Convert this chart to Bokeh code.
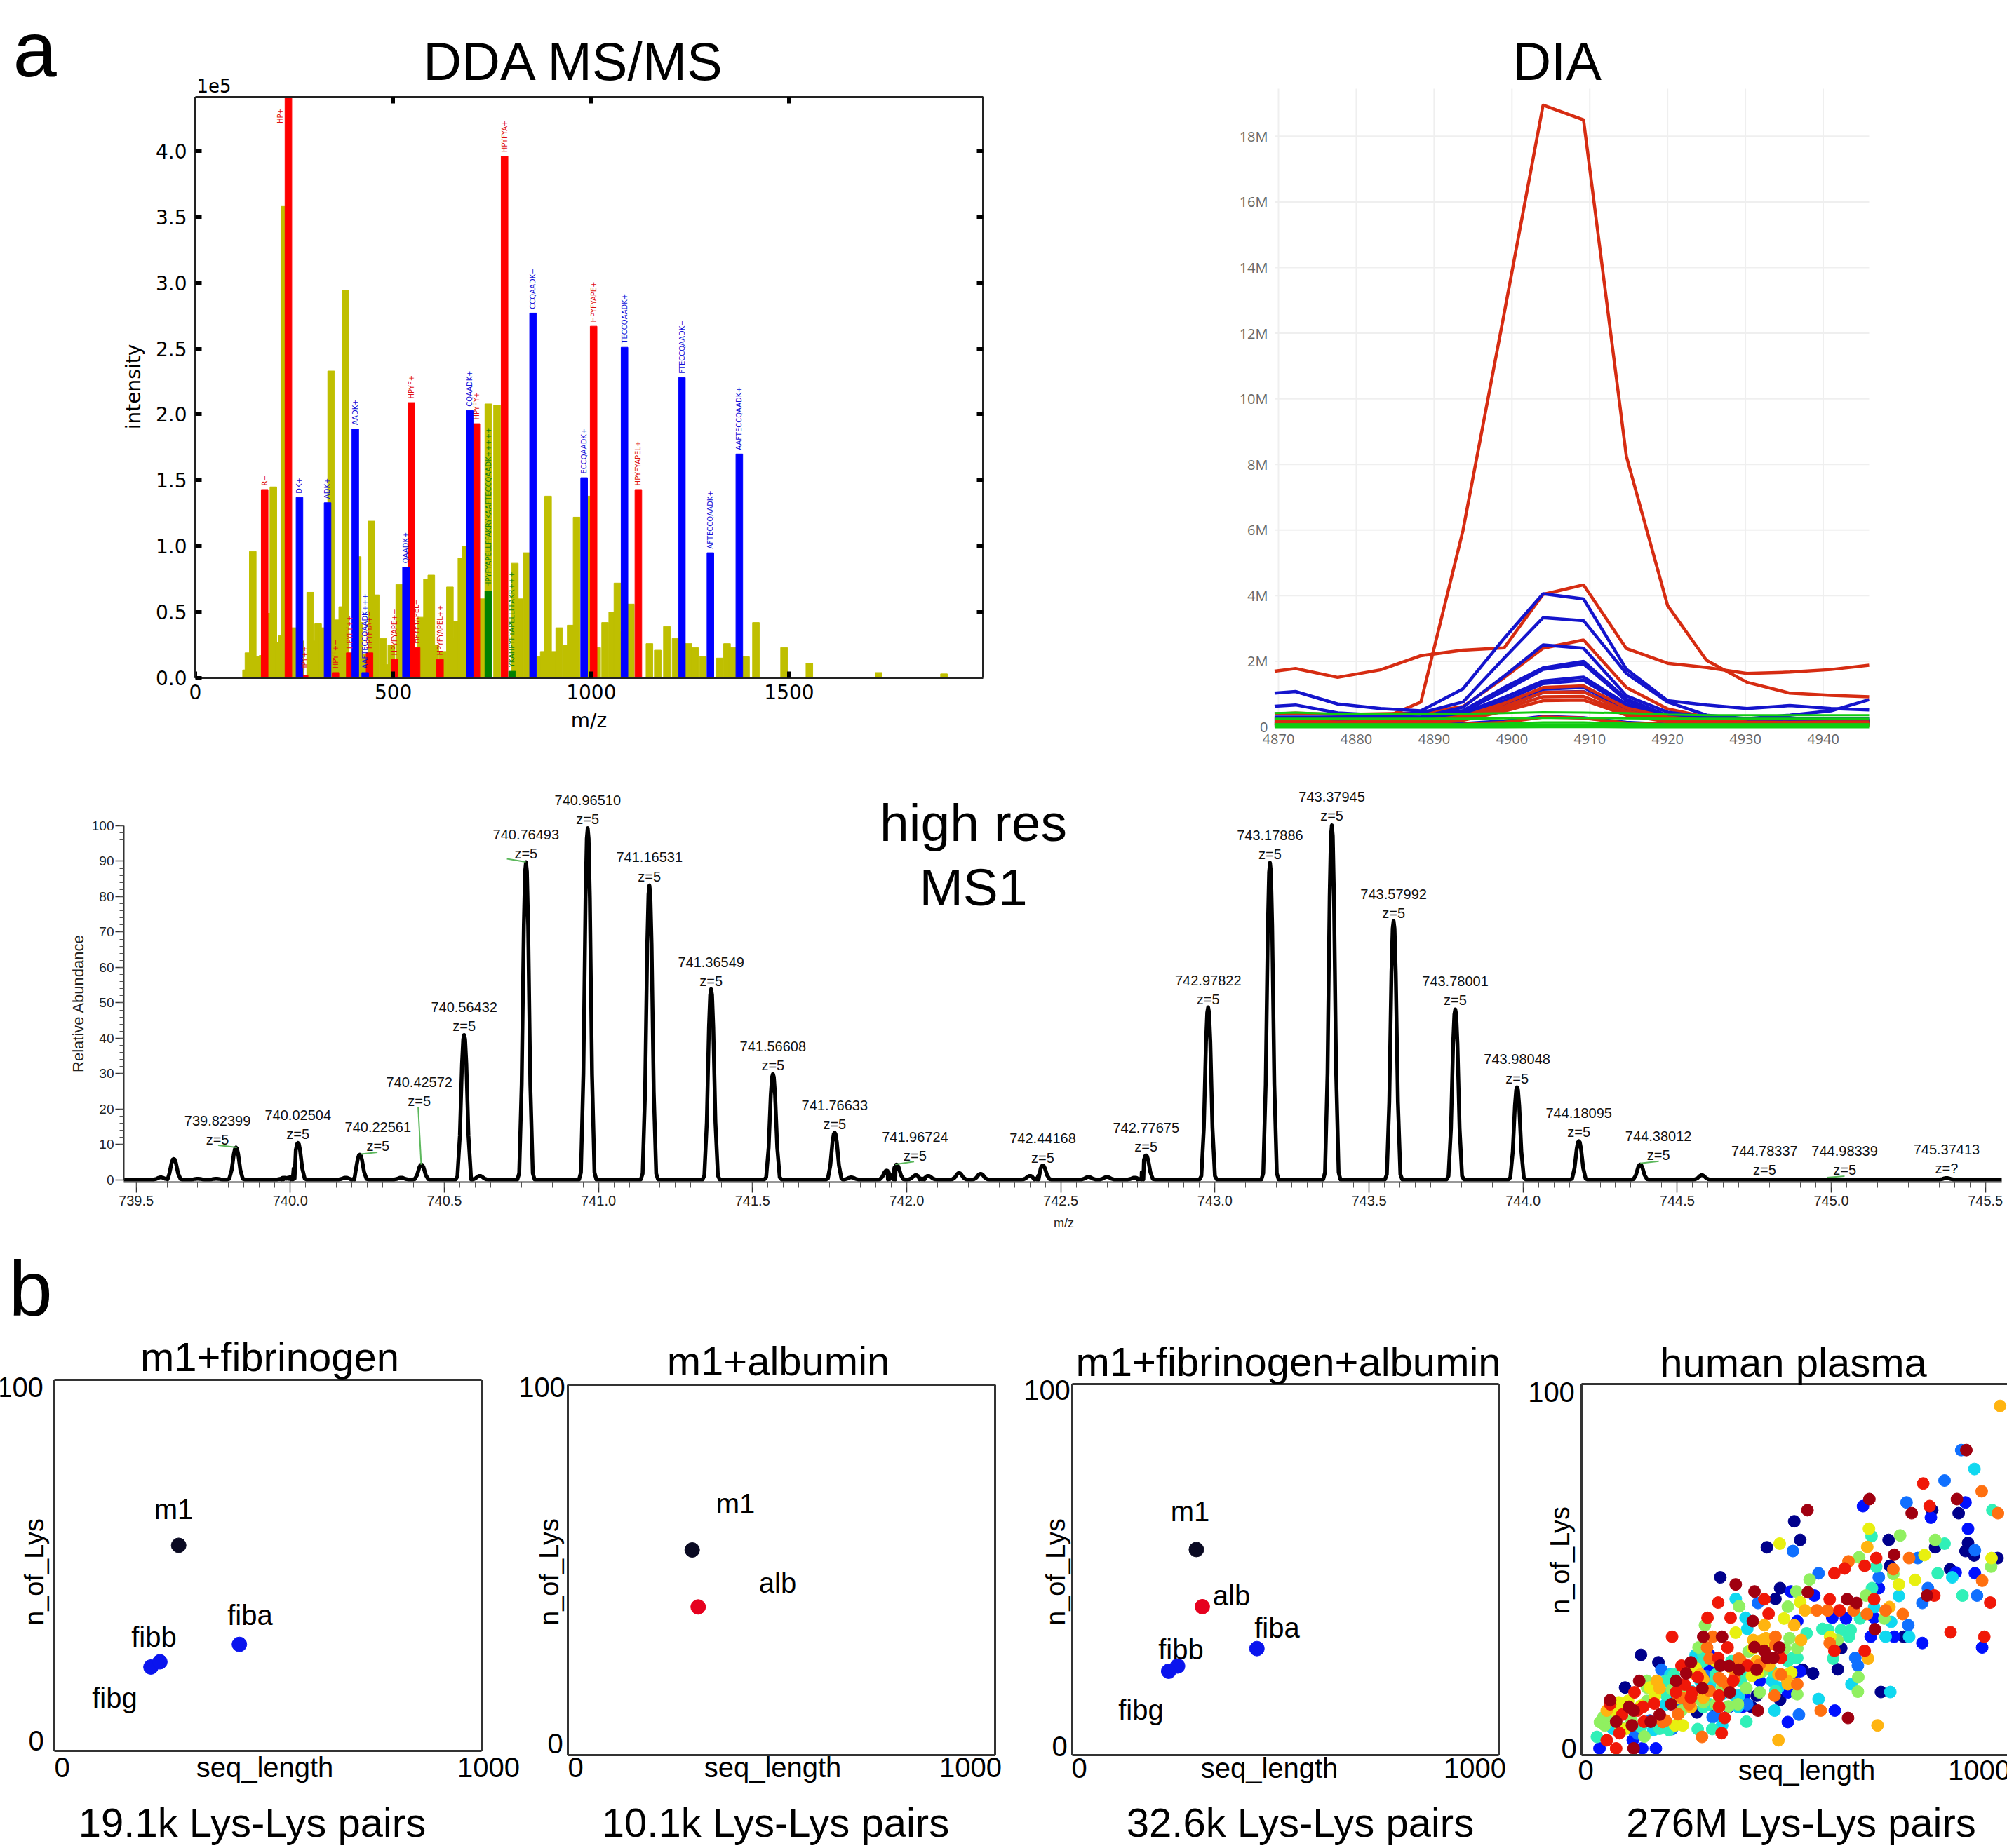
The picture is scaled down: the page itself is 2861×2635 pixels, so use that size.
import math
from bokeh.plotting import figure
from bokeh.layouts import column, row
from bokeh.models import Range1d, Label, LinearAxis, FixedTicker
from bokeh.core.properties import value
from bokeh.embed import file_html
from bokeh.resources import INLINE

# ---------- panel a, DDA MS/MS (intensity in units of 1e5) ----------
olive_mz = [128,134,145,155,170,188,197,212,218,225,248,265,290,300,310,320,343,359,371,379,410,415,430,445,456,
            474,484,495,515,524,545,570,585,596,606,625,643,651,660,672,682,700,726,740,762,807,819,837,872,880,891,
            902,919,937,948,963,993,1015,1035,1053,1066,1080,1100,1147,1168,1191,1213,1246,1262,1282,1325,1343,1357,
            1391,1416,1487,1551,1726,1891]
olive_int = [0.06,0.19,0.96,0.16,0.17,0.49,1.45,0.27,0.32,3.58,0.38,0.28,0.65,0.28,0.41,0.38,2.33,0.44,0.54,2.94,
             0.92,0.42,0.18,1.19,0.63,0.30,0.10,0.25,0.71,0.35,0.20,0.46,0.75,0.78,0.25,0.20,0.69,0.30,0.43,0.91,1.00,
             0.20,0.60,2.08,2.07,0.87,0.60,0.95,0.16,0.20,1.38,0.20,0.38,0.25,0.40,1.22,1.38,0.23,0.42,0.50,0.72,0.35,
             0.56,0.26,0.21,0.39,0.30,0.26,0.23,0.16,0.15,0.26,0.23,0.16,0.42,0.23,0.11,0.04,0.03]
red_mz = [175,235,276,354,390,440,503,546,559,618,710,781,1006,1119]
red_int = [1.43,4.41,0.02,0.04,0.19,0.19,0.14,2.09,0.23,0.14,1.93,3.96,2.67,1.43]
red_lab = ["R+","HP+","HPY++","HPYF++","HPYFY++","HPYFYA++","HPYFYAPE++","HPYF+","HPYFYAPEL+","HPYFYAPEL++",
           "HPYFY+","HPYFYA+","HPYFYAPE+","HPYFYAPEL+"]
blue_mz = [263,334,404,429,532,693,853,982,1084,1229,1301,1374]
blue_int = [1.37,1.33,1.89,0.04,0.84,2.03,2.77,1.52,2.51,2.28,0.95,1.70]
blue_lab = ["DK+","ADK+","AADK+","AAFTECCQAADK+++","QAADK+","CQAADK+","CCQAADK+","ECCQAADK+","TECCQAADK+",
            "FTECCQAADK+","AFTECCQAADK+","AAFTECCQAADK+"]
green_mz = [740,800]
green_int = [0.66,0.05]
green_lab = ["HPYFYAPELLFFAKRYKAAFTECCQAADK+++++","YKAHPYFYAPELLFFAKR+++"]

# ---------- panel a, DIA chromatograms (millions) ----------
dia_t = [4869.5,4872.2,4877.6,4883.1,4888.3,4893.7,4899,4904,4909.2,4914.7,4920,4925,4930.2,4935.7,4941,4945.9]
dia_red_large = [
 [.10,.10,.12,.23,.76,5.98,12.6,18.95,18.5,8.25,3.7,2.03,1.36,1.03,.96,.92],
 [1.70,1.78,1.51,1.74,2.17,2.34,2.41,4.04,4.33,2.39,1.94,1.81,1.63,1.67,1.75,1.88],
 [.40,.42,.38,.40,.42,.62,1.5,2.4,2.65,1.2,.55,.30,.20,.18,.18,.18],
]
dia_red_small = [
 [.17,.17,.15,.16,.18,.32,.72,1.2,1.25,.58,.30,.20,.15,.14,.15,.15],
 [.13,.13,.12,.13,.15,.30,.62,1.05,1.07,.48,.22,.15,.12,.12,.13,.12],
 [.10,.10,.10,.11,.12,.25,.55,.92,.93,.42,.20,.13,.10,.10,.10,.10],
 [.08,.08,.08,.09,.10,.20,.48,.80,.82,.36,.16,.10,.09,.08,.08,.08],
 [.05,.05,.05,.05,.06,.08,.14,.30,.27,.12,.08,.06,.05,.05,.05,.05],
]
dia_blue = [
 [1.03,1.08,.70,.56,.49,1.16,2.70,4.06,3.90,1.76,.80,.67,.56,.65,.56,.52],
 [.63,.67,.43,.36,.43,.76,2.10,3.33,3.24,1.63,.76,.36,.25,.36,.49,.83],
 [.30,.30,.30,.32,.30,.60,1.55,2.50,2.40,.95,.45,.30,.25,.25,.25,.25],
 [.28,.28,.27,.28,.30,.50,1.20,1.80,2.00,.85,.35,.25,.20,.20,.20,.20],
 [.25,.26,.25,.26,.28,.46,1.10,1.75,1.92,.80,.33,.22,.18,.18,.18,.18],
 [.22,.22,.22,.23,.25,.42,.90,1.40,1.52,.70,.30,.20,.16,.16,.16,.16],
 [.20,.20,.20,.20,.22,.38,.80,1.32,1.42,.64,.28,.18,.15,.15,.15,.15],
 [.16,.16,.16,.17,.18,.34,.70,1.15,1.20,.55,.24,.16,.13,.13,.13,.13],
 [.12,.12,.12,.13,.14,.28,.62,1.05,1.08,.48,.20,.13,.10,.10,.10,.10],
 [.06,.06,.06,.06,.07,.10,.18,.32,.28,.14,.08,.06,.05,.05,.05,.05],
]
dia_green = [
 [.42,.44,.40,.40,.40,.40,.42,.45,.44,.42,.38,.36,.36,.36,.36,.36],
 [.25,.25,.25,.25,.25,.25,.26,.27,.27,.26,.25,.25,.25,.25,.25,.25],
 [.08,.08,.08,.08,.08,.08,.10,.14,.14,.10,.08,.08,.08,.08,.08,.08],
 [.03,.03,.03,.03,.03,.03,.03,.04,.04,.03,.03,.03,.03,.03,.03,.03],
]
dia_green_widths = [3,3,3,7]
dia_xticks = [4870,4880,4890,4900,4910,4920,4930,4940]
dia_yticks = [0,2,4,6,8,10,12,14,16,18]

# ---------- panel a, high-res MS1 ----------
peak_mz = [739.58,739.622,739.70,739.76,739.82399,739.98,740.0,740.02504,740.18,740.22561,740.36,740.42572,740.56432,
           740.615,740.76493,740.96510,741.16531,741.36549,741.56608,741.76633,741.82,741.935,741.96724,742.03,742.07,
           742.17,742.24,742.40,742.44168,742.59,742.65,742.74,742.77675,742.97822,743.17886,743.37945,743.57992,
           743.78001,743.98048,744.18095,744.38012,744.58,745.37413]
peak_int = [0.6,5.8,0.2,0.2,9.0,0.5,0.6,10.3,0.5,7.0,0.5,4.2,40.8,1.0,89.6,99.2,83.0,53.7,29.8,13.2,0.6,2.5,4.2,1.2,1.0,
            1.8,1.6,1.0,3.9,0.7,0.7,0.5,6.8,48.6,89.4,100.0,73.0,48.0,26.0,10.8,4.2,1.2,0.4]
ms_names = ["739.82399","740.02504","740.22561","740.42572","740.56432","740.76493","740.96510","741.16531","741.36549",
            "741.56608","741.76633","741.96724","742.44168","742.77675","742.97822","743.17886","743.37945","743.57992",
            "743.78001","743.98048","744.18095","744.38012","744.78337","744.98339","745.37413"]
ms_z = ["z=5"]*24 + ["z=?"]
ms_label_shift = [-0.06,0,0.059,-0.007,0,0,0,0,0,0,0,0.06,0,0,0,0,0,0,0,0,0,0.059,0,0.06,0]
ms_label_y = [11.4,12.9,9.5,22.2,43.5,92.1,101.8,85.7,56.1,32.3,15.7,6.8,6.3,9.4,51,92,102.8,75.3,50.7,28.7,13.6,7,2.9,2.9,3.2]
leader_x0 = [739.766,740.703,740.23,740.415,741.963,744.38,744.986]
leader_x1 = [739.827,740.764,740.283,740.425,742.024,744.44,745.043]
leader_y0 = [9.8,90.7,7.3,20.7,4.4,4.7,0.7]
leader_y1 = [9.2,89.8,7.8,4.3,5.2,5.3,1.1]

# ---------- panel b ----------
m1 = (291,55.4); alb = (305,40); fiba = (433,28.7); fibb = (247,24); fibg = (226,22.6)

plasma_navy = [(139,27),(102,18.2),(325,47.9),(434,56),(498,63),(512,58),(719,58),(821,66),(883,65.2),(905,57.2),(828,56),
 (899,55),(919,53.8),(974,53.1),(722,51),(863,50.1),(465,45),(454,42.1),(608,28.8),(600,23.1),(701,17),(180,25),(518,23),
 (542,22),(465,14.9),(754,31.9),(307,13.5),(410,16),(399,12.9),(270,11.5),(314,20.8)]
plasma_blue = [(659,67.1),(899,68.1),(818,64),(905,61),(876,49.2),(921,49),(490,44.1),(545,43),(696,45),(587,37),(619,36.8),
 (685,37),(505,36.1),(677,31.9),(732,31.9),(798,30.2),(938,29),(593,12),(300,23),(498,22.2),(483,16.9),(483,8.9),(42,1.8),
 (142,1.8),(174,1.8),(120,4),(377,13),(380,16),(278,25.3),(300,27),(344,12.9),(512,22.6),(417,20)]
plasma_azure = [(889,82.2),(850,74),(761,68.1),(495,55),(921,55.2),(787,53.1),(696,47.9),(811,45),(926,43),(798,41),(413,41),
 (765,35),(641,26.2),(647,24.1),(187,23),(509,10.9),(292,21.3),(208,21.7),(314,10.6),(120,6.7),(212,7),(234,14.6),(555,49),
 (212,16.4),(160,9.3),(131,5.8),(307,10.2),(270,24.4),(388,13.7)]
plasma_cyan = [(920,77.1),(361,42.1),(685,39.9),(384,37),(388,34),(725,35.9),(712,31.9),(767,31.9),(632,19.1),(723,17),
 (555,15.1),(446,20),(452,12),(267,27),(743,42.9),(868,47.9),(359,16),(366,13),(329,8),(73,7.1),(197,13.7),(300,18.6),
 (208,21.7),(278,20),(256,17.3),(369,16),(461,18.2),(168,6.7),(329,16.4)]
plasma_teal = [(962,66),(679,59),(850,57),(690,50.8),(834,49),(680,45),(892,43),(652,36.8),(527,32.8),(564,34),(578,33.7),
 (608,33.7),(630,33.7),(626,31.9),(589,26),(505,26.2),(494,26.2),(285,25.3),(314,20.8),(36,4.9),(272,7),(306,7),(386,9),
 (205,6.7),(183,7.1),(139,7.5),(285,12.9),(197,16.4),(373,21.7),(285,27),(263,24.4),(314,21.7),(216,21.7),(197,20),(351,25.3),
 (373,20),(446,22.6),(454,17.3),(483,25.3),(300,13.7)]
plasma_lime = [(746,59.2),(828,58),(650,53.3),(730,48.8),(534,47.3),(503,44.1),(666,43),(369,40.1),(483,40),(709,36.8),(289,35),
 (487,31.5),(599,31),(391,27.9),(274,29),(648,21),(647,17.1),(505,16.4),(417,16.9),(386,18),(153,18.2),(54,8),(43,8.9),(91,7.5),
 (147,5),(285,14.2),(344,13.1),(329,18.2),(212,17.7),(234,12),(153,14.6),(117,9.3),(959,50.8),(51,10.2),(65,10.6),(153,20),
 (168,17.3),(234,17.3),(278,15),(314,13.7),(366,13.7),(424,22.6),(476,28.8),(505,28.8)]
plasma_yellow = [(464,57),(673,61),(803,53.9),(960,53.1),(743,46),(781,47.2),(512,41.2),(474,36.8),(361,33),(582,31.9),(491,22.2),
 (399,21.3),(413,22.2),(87,14.2),(76,12),(102,7),(219,8),(237,8),(172,16),(102,12.9),(259,22.2),(98,12.9),(109,14.6),(139,13.3),
 (160,18.2),(248,22.6),(267,23.5),(314,25.3),(402,28.8),(432,29.7),(483,21.7),(226,15.5)]
plasma_amber = [(980,94.1),(669,56.1),(523,39),(721,39.9),(498,35),(428,35),(424,31),(514,31),(671,26),(439,24.1),(482,20),(693,8),
 (461,4),(59,12),(176,20),(183,18),(278,21.7),(256,12.9),(248,15.5),(285,15.5),(351,23.5),(410,25.3),(432,31.5),(402,31),(461,21.7),
 (483,19.1),(285,20.4)]
plasma_orange = [(937,71.1),(767,53.1),(625,52.2),(730,50.1),(938,47),(752,38),(712,39),(551,39),(576,39),(637,39),(668,38),(307,31.9),
 (454,31.9),(581,30.2),(294,29),(368,26),(300,26),(467,21.7),(505,19.1),(452,16),(560,12),(975,65.2),(282,4.9),(190,8.9),(252,13.7),
 (322,20.8),(344,18.6),(197,9.3),(234,15.5),(300,17.3),(329,20),(358,20.8),(373,25.3),(417,24.4),(454,29.7),(226,11)]
plasma_red = [(800,73.2),(815,67.1),(690,53.1),(616,50.3),(592,49),(663,51),(428,42),(320,41.1),(581,42),(685,42),(604,39),(295,37),
 (349,37),(438,38.1),(826,43),(957,41.1),(864,33.1),(943,31.9),(592,28.1),(663,28.1),(342,29),(234,24.1),(272,21),(320,26.2),(467,26.2),
 (389,24.1),(124,16.9),(221,16.9),(67,13.7),(144,13),(170,13.9),(95,10.9),(89,5.9),(146,9),(131,12),(59,4),(81,1.8),(335,10),(322,13),
 (322,16),(355,20),(241,19),(259,16.9),(256,15.5),(328,5.9),(212,31.9)]
plasma_darkred = [(901,82.2),(879,69),(674,69),(773,65.2),(529,66),(732,54),(361,46),(405,44.1),(530,43.9),(622,42),(644,41),(809,43),
 (401,36.1),(285,31.9),(329,31.9),(687,33.9),(405,29.1),(428,28.1),(463,29),(624,10),(256,25),(245,22),(325,24.1),(346,24),(368,23),
 (410,23),(434,26.2),(449,26.2),(135,20),(67,14.8),(221,20),(210,13.7),(111,13),(122,12),(183,10.9),(162,9),(81,9),(118,8),(122,1.8),
 (413,12),(347,16.9),(283,18)]
plasma_groups = [("#00008b",plasma_navy),("#0010ff",plasma_blue),("#1070ff",plasma_azure),("#10d8f0",plasma_cyan),("#30f0b8",plasma_teal),
 ("#90f060",plasma_lime),("#e8f010",plasma_yellow),("#ffb410",plasma_amber),("#ff7010",plasma_orange),("#f01808",plasma_red),("#a00010",plasma_darkred)]

ARIAL = "Liberation Sans"
DEJA = "DejaVu Sans"
BASELINE_LIFT = 0.375   # Label places alphabetic text this fraction of its size too low here


class Panel:
    """The plot area fills the whole figure box; the axes sit at fixed data locations on the inner box,
    so that text may lie anywhere around them without being clipped."""
    def __init__(self, box, frame, xr, yr):
        fl, ft, fr, fb = box
        l, t, r, b = frame
        self.box, self.xr, self.yr = box, xr, yr
        kx = (xr[1]-xr[0])/(r-l); ky = (yr[1]-yr[0])/(b-t)
        self.p = figure(width=fr-fl, height=fb-ft,
                        x_range=Range1d(xr[0]+(fl-l)*kx, xr[0]+(fr-l)*kx),
                        y_range=Range1d(yr[0]+(b-fb)*ky, yr[0]+(b-ft)*ky),
                        output_backend="svg", toolbar_location=None,
                        min_border_left=0, min_border_right=0, min_border_top=0, min_border_bottom=0,
                        background_fill_color="white", border_fill_color="white")
        self.p.grid.visible = False
        self.p.outline_line_color = None
        self.x_axis, self.y_axis = self.p.below[0], self.p.left[0]
        self.x_axis.fixed_location = yr[0]; self.x_axis.bounds = xr
        self.y_axis.fixed_location = xr[0]; self.y_axis.bounds = yr

    def mirror(self, right=True, ticks_x=(), ticks_y=()):
        axes = []
        top = LinearAxis(fixed_location=self.yr[1], bounds=self.xr, ticker=FixedTicker(ticks=list(ticks_x)),
                         major_label_text_color=None)
        self.p.add_layout(top, "above"); axes.append(top)
        if right:
            rt = LinearAxis(fixed_location=self.xr[1], bounds=self.yr, ticker=FixedTicker(ticks=list(ticks_y)),
                            major_label_text_color=None)
            self.p.add_layout(rt, "right"); axes.append(rt)
        return axes

    def label(self, px, py, text, size, font=ARIAL, align="center", base="middle", angle=0, color="black"):
        if base == "alphabetic":
            py -= BASELINE_LIFT*size
        self.p.add_layout(Label(x=px-self.box[0], y=py-self.box[1], x_units="canvas", y_units="canvas",
                                text=text, text_font=font,
                                text_font_size=f"{size}px", text_align=align, text_baseline=base,
                                angle=angle, angle_units="deg", text_color=color))


TOP = 0; LEFT = 0; BOT = 2635; RIGHT = 2861
# ---------------- DDA ----------------
A = Panel((LEFT,TOP,1700,1090), (278,138,1401,966), (0,1990), (0,4.41))
pa = A.p
BAR_W = 17
pa.vbar(x=olive_mz, top=olive_int, width=BAR_W, color="#bfbf00")
for mz, it, col in [(red_mz,red_int,"#ff0000"),(blue_mz,blue_int,"#0000ff"),(green_mz,green_int,"#008000")]:
    pa.vbar(x=mz, top=it, width=BAR_W, color=col)
lab_cols = [(red_mz,red_int,red_lab,"#e01010"),(blue_mz,blue_int,blue_lab,"#1010d8"),(green_mz,green_int,green_lab,"#108010")]
for mz, it, lab, col in lab_cols:
    ys = [min(v,4.18)+0.03 for v in it]
    xs = [m-20 if v>=4.41 else m for m,v in zip(mz,it)]
    pa.text(x=xs, y=ys, text=lab, angle=math.pi/2, text_color=col, text_font=value(DEJA),
            text_font_size="10px", text_align="left", text_baseline="middle")
ax_x, ax_y = A.x_axis, A.y_axis
ax_x.ticker = FixedTicker(ticks=[0,500,1000,1500])
ax_y.ticker = FixedTicker(ticks=[0,0.5,1,1.5,2,2.5,3,3.5,4])
ax_y.major_label_overrides = {0:"0.0",0.5:"0.5",1:"1.0",1.5:"1.5",2:"2.0",2.5:"2.5",3:"3.0",3.5:"3.5",4:"4.0"}
for ax in [ax_x, ax_y] + A.mirror(ticks_x=[500,1000,1500], ticks_y=[0.5,1,1.5,2,2.5,3,3.5,4]):
    ax.axis_line_color = "#222222"; ax.axis_line_width = 3
    ax.major_tick_line_color = "black"; ax.major_tick_line_width = 5
    ax.major_tick_in = 9; ax.major_tick_out = 0
    ax.minor_tick_line_color = None
for ax, st in [(ax_x,9),(ax_y,12)]:
    ax.major_label_text_font = DEJA; ax.major_label_text_font_size = "28px"
    ax.major_label_text_color = "black"; ax.major_label_standoff = st
A.label(190, 551, "intensity", 28, font=DEJA, angle=90)
A.label(839, 1027, "m/z", 28, font=DEJA)
A.label(818, 115, "DDA MS/MS", 76, base="alphabetic")
A.label(280, 131, "1e5", 26, font=DEJA, align="left", base="alphabetic")
A.label(18, 112, "a", 112, align="left", base="alphabetic")

# ---------------- DIA ----------------
B = Panel((1700,TOP,RIGHT,1090), (1817,126,2664,1036), (4869.55,4945.9), (0,19.45))
pb = B.p
pb.segment(x0=dia_xticks, y0=[0]*len(dia_xticks), x1=dia_xticks, y1=[19.45]*len(dia_xticks), line_color="#efefef", line_width=2)
pb.segment(x0=[4869.55]*len(dia_yticks), y0=dia_yticks, x1=[4945.9]*len(dia_yticks), y1=dia_yticks, line_color="#efefef", line_width=2)
B.x_axis.ticker = FixedTicker(ticks=dia_xticks)
B.y_axis.ticker = FixedTicker(ticks=dia_yticks)
B.y_axis.major_label_overrides = {v:(f"{v}M" if v else "0") for v in dia_yticks}
for ax in [B.x_axis, B.y_axis]:
    ax.axis_line_color = None; ax.major_tick_line_color = None; ax.minor_tick_line_color = None
    ax.major_label_text_font = "Open Sans"; ax.major_label_text_font_size = "20px"
    ax.major_label_text_color = "#666666"; ax.major_label_standoff = 4
for ys in dia_red_large:
    pb.line(dia_t, ys, line_color="#d62c12", line_width=4.5)
for ys in dia_blue:
    pb.line(dia_t, ys, line_color="#1414cc", line_width=4.5)
for ys in dia_red_small:
    pb.line(dia_t, ys, line_color="#d62c12", line_width=4.5)
for ys, w in zip(dia_green, dia_green_widths):
    pb.line(dia_t, ys, line_color="#10cc10", line_width=w)
B.label(2219, 115, "DIA", 76, base="alphabetic")

# ---------------- MS1 ----------------
C = Panel((LEFT,1090,RIGHT,1775), (176,1177,2853,1685), (739.46,745.553), (-0.6,100))
pc = C.p
PROFILE_DX = [-0.028,-0.022,-0.014,-0.007,-0.003,0,0.003,0.007,0.014,0.022,0.028]
PROFILE_H = [0,0.02,0.3,0.8,0.97,1,0.97,0.8,0.3,0.02,0]
BASE = 0.15
sx, sy = [739.46], [BASE]
for mz, h in zip(peak_mz, peak_int):
    for d, f in zip(PROFILE_DX, PROFILE_H):
        sx.append(mz+d); sy.append(BASE+f*h)
sx.append(745.553); sy.append(BASE)
merged = {}
for xv, yv in zip(sx, sy):
    k = round(xv, 4)
    merged[k] = max(merged.get(k, 0), yv)
mk = sorted(merged)
pc.line(mk, [merged[k] for k in mk], line_color="black", line_width=5.5, line_join="round")
pc.segment(leader_x0, leader_y0, leader_x1, leader_y1, line_color="#5cb85c", line_width=2)
label_x = [float(n)+s for n, s in zip(ms_names, ms_label_shift)]
pc.text(x=label_x, y=[y+5.4 for y in ms_label_y], text=ms_names, text_font=value(ARIAL), text_font_size="20px",
        text_align="center", text_baseline="middle", text_color="#111111")
pc.text(x=label_x, y=ms_label_y, text=ms_z, text_font=value(ARIAL), text_font_size="20px",
        text_align="center", text_baseline="middle", text_color="#111111")
xaxis, yaxis = C.x_axis, C.y_axis
xaxis.ticker = FixedTicker(ticks=[739.5+0.5*i for i in range(13)], minor_ticks=[739.5+0.05*i for i in range(121)])
xaxis.major_label_overrides = {739.5+0.5*i: f"{739.5+0.5*i:.1f}" for i in range(13)}
yaxis.ticker = FixedTicker(ticks=list(range(0,101,10)), minor_ticks=list(range(0,101,2)))
yaxis.bounds = (0,100)
for ax in [xaxis, yaxis]:
    ax.axis_line_color = "#333333"; ax.axis_line_width = 2
    ax.major_tick_line_color = "#333333"; ax.minor_tick_line_color = "#555555"
    ax.major_tick_in = 0; ax.minor_tick_in = 0
    ax.major_tick_line_width = 1.5; ax.minor_tick_line_width = 1
    ax.major_label_text_font = ARIAL; ax.major_label_text_color = "#222222"
xaxis.major_tick_out = 15; xaxis.minor_tick_out = 8; xaxis.major_label_standoff = 4
xaxis.major_label_text_font_size = "20px"
yaxis.major_tick_out = 12; yaxis.minor_tick_out = 6; yaxis.major_label_standoff = 2
yaxis.major_label_text_font_size = "19px"
C.label(111, 1430, "Relative Abundance", 22, angle=90, color="#222222")
C.label(1516, 1743, "m/z", 18, color="#222222")
C.label(1387, 1201, "high res", 75, base="alphabetic")
C.label(1387, 1293, "MS1", 75, base="alphabetic")

# ---------------- panel b scatters ----------------
def scatter_panel(box, frame, xend=1000, outline=True):
    P = Panel(box, frame, (0,xend), (0,100))
    for ax in [P.x_axis, P.y_axis] + P.mirror(right=outline):
        ax.ticker = FixedTicker(ticks=[])
        ax.axis_line_color = "#333333"; ax.axis_line_width = 3
    return P

def dress(P, title, tx, ty, foot, fx, fy, t100, t0, x0, x1, xy, seq, lysx, lysy):
    P.label(tx, ty, title, 58, base="alphabetic")
    P.label(fx, fy, foot, 58, base="alphabetic")
    P.label(t100[0], t100[1], "100", 40)
    P.label(t0[0], t0[1], "0", 40)
    P.label(x0, xy, "0", 40)
    P.label(x1, xy, "1000", 40)
    P.label(seq, xy, "seq_length", 40)
    P.label(lysx, lysy, "n_of_Lys", 38, angle=90)

def pts(P, items, size=21):
    xs = [a[0] for a, _ in items]; ys = [a[1] for a, _ in items]; cs = [c for _, c in items]
    P.p.scatter(x=xs, y=ys, size=size, color=cs)

NAVY, BL, RD = "#0a0a22", "#0a14ee", "#e6001e"

P1 = scatter_panel((LEFT,1775,741,BOT), (77,1967,686,2496))
pts(P1, [(m1,NAVY),(fibg,BL),(fibb,BL),(fiba,BL)])
dress(P1, "m1+fibrinogen", 384, 1956, "19.1k Lys-Lys pairs", 359, 2620, (28,1977), (51,2481), 88, 696, 2519, 377, 48, 2241)
P1.label(247, 2151, "m1", 40); P1.label(356, 2302, "fiba", 40); P1.label(219, 2333, "fibb", 40); P1.label(163, 2420, "fibg", 40)
P1.label(12, 1879, "b", 112, align="left", base="alphabetic")

P2 = scatter_panel((741,1775,1440,BOT), (809,1974,1418,2502))
pts(P2, [(m1,NAVY),(alb,RD)])
dress(P2, "m1+albumin", 1109, 1962, "10.1k Lys-Lys pairs", 1105, 2620, (772,1977), (791,2485), 820, 1383, 2519, 1101, 782, 2241)
P2.label(1048, 2143, "m1", 40); P2.label(1108, 2256, "alb", 40)

P3 = scatter_panel((1440,1775,2160,BOT), (1528,1973,2136,2502))
pts(P3, [(m1,NAVY),(alb,RD),(fibb,BL),(fibg,BL),(fiba,BL)])
dress(P3, "m1+fibrinogen+albumin", 1836, 1963, "32.6k Lys-Lys pairs", 1853, 2620, (1492,1981), (1510,2489), 1538, 2102, 2520, 1809, 1504, 2241)
P3.label(1696, 2154, "m1", 40); P3.label(1755, 2274, "alb", 40); P3.label(1820, 2320, "fiba", 40)
P3.label(1683, 2351, "fibb", 40); P3.label(1626, 2437, "fibg", 40)

P4 = scatter_panel((2160,1775,RIGHT,BOT), (2254,1973,2861,2502), xend=997, outline=False)
for col, group in plasma_groups:
    P4.p.scatter(x=[g[0] for g in group], y=[g[1] for g in group], size=17, color=col)
dress(P4, "human plasma", 2556, 1964, "276M Lys-Lys pairs", 2567, 2620, (2211,1984), (2236,2492), 2260, 2821, 2523, 2575, 2223, 2224)

page = column(row(A.p, B.p), C.p, row(P1.p, P2.p, P3.p, P4.p))
open("out.html", "w").write(file_html(page, INLINE))
